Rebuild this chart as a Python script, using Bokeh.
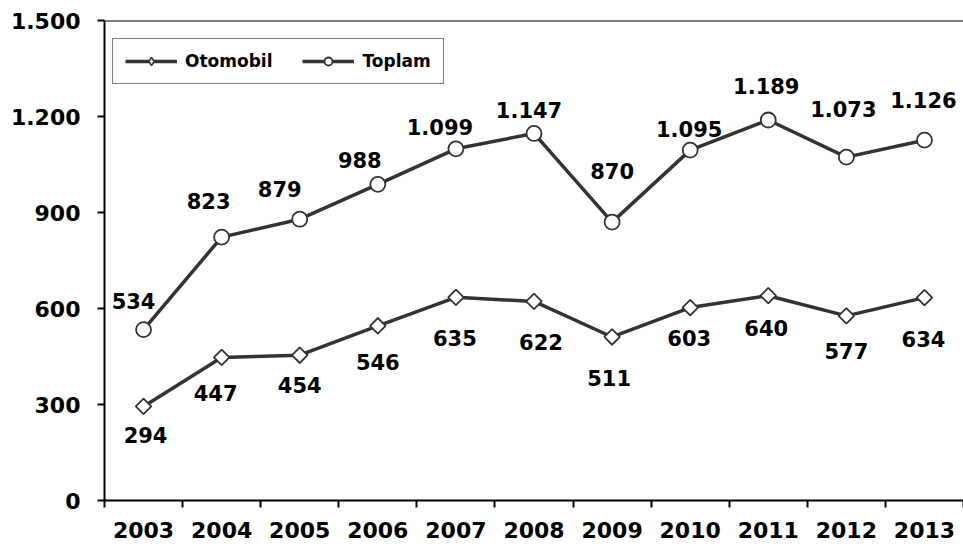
import math
from bokeh.plotting import figure
from bokeh.models import (Range1d, FixedTicker, Span, Legend, LegendItem, ColumnDataSource)
from bokeh.core.properties import value
from bokeh.embed import file_html
from bokeh.resources import INLINE

years = [2003, 2004, 2005, 2006, 2007, 2008, 2009, 2010, 2011, 2012, 2013]
otomobil = [294, 447, 454, 546, 635, 622, 511, 603, 640, 577, 634]
toplam = [534, 823, 879, 988, 1099, 1147, 870, 1095, 1189, 1073, 1126]
y_ticks = [0, 300, 600, 900, 1200, 1500]
y_tick_labels = ["0", "300", "600", "900", "1.200", "1.500"]

# label pixel offsets (style)
toplam_dx = [-10, -13, -20, -18, -16, -5, 0, -1, -2, -3, -1]
toplam_dy = [-29, -36, -30, -24, -22, -23, -51, -21, -34, -48, -40]
oto_dx = [2, -6, 0, 0, -1, 7, -3, -1, -2, 0, -1]
oto_dy = [29, 36, 30, 36, 41, 41, 41, 30, 32, 35, 41]

def fmt(v):
    return f"{v:,}".replace(",", ".")

FONT = "DejaVu Sans"
LINE = "#333333"

p = figure(width=963, height=549, output_backend="svg", toolbar_location=None,
           x_range=Range1d(2002.5, 2013.5), y_range=Range1d(0, 1500),
           min_border_left=104, min_border_right=0, min_border_top=20, min_border_bottom=49)
p.outline_line_color = None
p.xgrid.visible = False
p.ygrid.visible = False
p.background_fill_color = "white"
p.border_fill_color = "white"

# axes
xa = p.xaxis[0]
xa.ticker = FixedTicker(ticks=years, minor_ticks=[y - 0.5 for y in years] + [years[-1] + 0.5])
xa.major_label_overrides = {y: str(y) for y in years}
xa.axis_line_color = "black"
xa.axis_line_width = 2
xa.major_tick_out = 0
xa.major_tick_in = 0
xa.minor_tick_out = 7
xa.minor_tick_in = 0
xa.minor_tick_line_color = "black"
xa.minor_tick_line_width = 2
xa.major_label_standoff = 14
xa.major_label_text_font = FONT
xa.major_label_text_font_style = "bold"
xa.major_label_text_font_size = "22px"
xa.major_label_text_color = "black"

ya = p.yaxis[0]
ya.ticker = FixedTicker(ticks=y_ticks, minor_ticks=[])
ya.major_label_overrides = {t: l for t, l in zip(y_ticks, y_tick_labels)}
ya.axis_line_color = "black"
ya.axis_line_width = 2
ya.major_tick_out = 7
ya.major_tick_in = 0
ya.major_tick_line_color = "black"
ya.major_tick_line_width = 2
ya.minor_tick_out = 0
ya.minor_tick_in = 0
ya.major_label_standoff = 17
ya.major_label_text_font = FONT
ya.major_label_text_font_style = "bold"
ya.major_label_text_font_size = "22px"
ya.major_label_text_color = "black"

p.add_layout(Span(location=y_ticks[-1], dimension="width", line_color="black", line_width=2))

src = ColumnDataSource(dict(x=years, oto=otomobil, top=toplam,
                            oto_lbl=[fmt(v) for v in otomobil],
                            top_lbl=[fmt(v) for v in toplam],
                            tdx=toplam_dx, tdy=toplam_dy, odx=oto_dx, ody=oto_dy))

l1 = p.line("x", "oto", source=src, line_color=LINE, line_width=3.5)
s1 = p.scatter("x", "oto", source=src, marker="square", angle=math.pi / 4, size=11,
               fill_color="white", line_color=LINE, line_width=1.8)
l2 = p.line("x", "top", source=src, line_color=LINE, line_width=3.5)
s2 = p.scatter("x", "top", source=src, marker="circle", size=15,
               fill_color="white", line_color=LINE, line_width=1.8)

# legend-only marker glyph (a single non-drawn NaN point)
leg_src = ColumnDataSource(dict(x=[float("nan")], y=[float("nan")]))
s1_leg = p.scatter("x", "y", source=leg_src, marker="diamond", size=13,
                   fill_color="white", line_color=LINE, line_width=1.5)

p.text("x", "top", text="top_lbl", source=src, x_offset="tdx", y_offset="tdy",
       text_align="center", text_baseline="middle", text_font=value(FONT),
       text_font_style="bold", text_font_size="21px", text_color="black")
p.text("x", "oto", text="oto_lbl", source=src, x_offset="odx", y_offset="ody",
       text_align="center", text_baseline="middle", text_font=value(FONT),
       text_font_style="bold", text_font_size="21px", text_color="black")

legend = Legend(items=[LegendItem(label="Otomobil", renderers=[l1, s1_leg]),
                       LegendItem(label="Toplam", renderers=[l2, s2])],
                location=(8, 416), orientation="horizontal", margin=0,
                padding=12, spacing=30, glyph_width=52, glyph_height=20,
                label_standoff=8, label_text_font=FONT, label_text_font_style="bold",
                label_text_font_size="17px", label_text_color="black",
                border_line_color="black", border_line_width=1.5,
                background_fill_alpha=1.0)
p.add_layout(legend)

open("out.html", "w").write(file_html(p, INLINE))
